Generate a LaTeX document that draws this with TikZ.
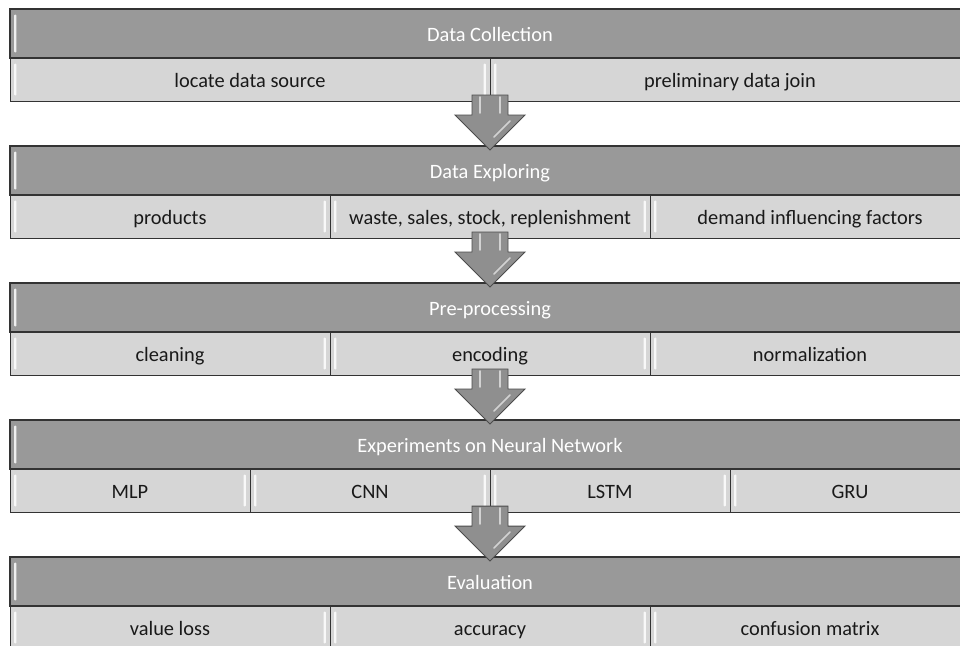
\documentclass[tikz,border=0pt]{standalone}
\usepackage{fontspec}
\setmainfont{Carlito}
\usepackage{tikz}

\definecolor{hdrgray}{HTML}{999999}
\definecolor{subgray}{HTML}{D6D6D6}
\definecolor{arrgray}{HTML}{8F8F8F}

\tikzset{
  gloss/.style={white, opacity=.85, rounded corners=0.6pt},
  hdr/.style={draw=black!80, line width=0.9pt, fill=hdrgray,
    path picture={\fill[gloss] ([shift={(3pt,-4pt)}]path picture bounding box.north west) rectangle ([shift={(4.6pt,4pt)}]path picture bounding box.south west);}},
  sub/.style={draw=black!80, line width=0.7pt, fill=subgray,
    path picture={\fill[gloss] ([shift={(3pt,-4pt)}]path picture bounding box.north west) rectangle ([shift={(4.6pt,4pt)}]path picture bounding box.south west);
                  \fill[gloss] ([shift={(-4.6pt,-4pt)}]path picture bounding box.north east) rectangle ([shift={(-3pt,4pt)}]path picture bounding box.south east);}},
  hdrtxt/.style={midway, yshift=-3pt, text=white, text height=1.5ex, text depth=0.3ex, font=\fontsize{14.5}{17}\selectfont},
  subtxt/.style={midway, yshift=-3pt, text=black!90, text height=1.5ex, text depth=0.3ex, font=\fontsize{14.5}{17}\selectfont},
  bigarrow/.style={draw=black!70, line width=0.7pt, fill=arrgray, line join=miter},
  shine/.style={white, opacity=.6, line width=1.2pt, line cap=round}
}

\begin{document}
\begin{tikzpicture}[x=0.025cm, y=-0.025cm]
\clip (0,0) rectangle (960,645);
\fill[white] (0,0) rectangle (960,645);

% data collection
\draw[hdr] (10,9) rectangle (970,58) node[hdrtxt] (collect) {Data Collection};
\draw[sub] (10,58) rectangle (490,101) node[subtxt] (locate) {locate data source};
\draw[sub] (490,58) rectangle (970,101) node[subtxt] (join) {preliminary data join};

% data exploring
\draw[hdr] (10,146) rectangle (970,195) node[hdrtxt] (explore) {Data Exploring};
\draw[sub] (10,195) rectangle (330,238) node[subtxt] (products) {products};
\draw[sub] (330,195) rectangle (650,238) node[subtxt] (waste) {waste, sales, stock, replenishment};
\draw[sub] (650,195) rectangle (970,238) node[subtxt] (factors) {demand influencing factors};

% pre-processing
\draw[hdr] (10,283) rectangle (970,332) node[hdrtxt] (prep) {Pre-processing};
\draw[sub] (10,332) rectangle (330,375) node[subtxt] (cleaning) {cleaning};
\draw[sub] (330,332) rectangle (650,375) node[subtxt] (encoding) {encoding};
\draw[sub] (650,332) rectangle (970,375) node[subtxt] (norm) {normalization};

% experiments
\draw[hdr] (10,420) rectangle (970,469) node[hdrtxt] (exper) {Experiments on Neural Network};
\draw[sub] (10,469) rectangle (250,512) node[subtxt] (mlp) {MLP};
\draw[sub] (250,469) rectangle (490,512) node[subtxt] (cnn) {CNN};
\draw[sub] (490,469) rectangle (730,512) node[subtxt] (lstm) {LSTM};
\draw[sub] (730,469) rectangle (970,512) node[subtxt] (gru) {GRU};

% evaluation
\draw[hdr] (10,557) rectangle (970,606) node[hdrtxt] (eval) {Evaluation};
\draw[sub] (10,606) rectangle (330,649) node[subtxt] (loss) {value loss};
\draw[sub] (330,606) rectangle (650,649) node[subtxt] (acc) {accuracy};
\draw[sub] (650,606) rectangle (970,649) node[subtxt] (confusion) {confusion matrix};

% arrows between stages
\draw[bigarrow] (472,95) -- (472,115) -- (455,115) -- (490,150) -- (525,115) -- (508,115) -- (508,95) -- cycle;
\draw[shine] (480,97) -- (480,113); \draw[shine] (500,97) -- (500,113); \draw[shine] (510,121) -- (494,137);
\draw[bigarrow] (472,232) -- (472,252) -- (455,252) -- (490,287) -- (525,252) -- (508,252) -- (508,232) -- cycle;
\draw[shine] (480,234) -- (480,250); \draw[shine] (500,234) -- (500,250); \draw[shine] (510,258) -- (494,274);
\draw[bigarrow] (472,369) -- (472,389) -- (455,389) -- (490,424) -- (525,389) -- (508,389) -- (508,369) -- cycle;
\draw[shine] (480,371) -- (480,387); \draw[shine] (500,371) -- (500,387); \draw[shine] (510,395) -- (494,411);
\draw[bigarrow] (472,506) -- (472,526) -- (455,526) -- (490,561) -- (525,526) -- (508,526) -- (508,506) -- cycle;
\draw[shine] (480,508) -- (480,524); \draw[shine] (500,508) -- (500,524); \draw[shine] (510,532) -- (494,548);
\end{tikzpicture}
\end{document}
